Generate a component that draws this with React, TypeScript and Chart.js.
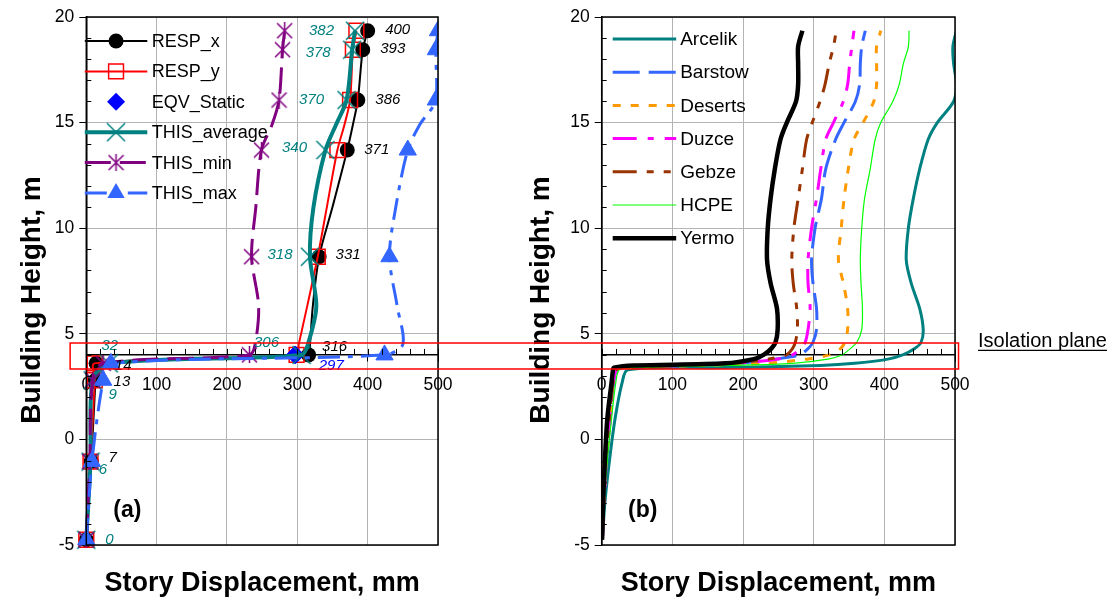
import React, { useEffect, useRef } from 'react';
import { Chart, registerables } from 'chart.js';

Chart.register(...registerables);

const FONT = '"Liberation Sans", Arial, Helvetica, sans-serif';

// ---------------- Panel (a): response comparison ----------------
const heightsA = [-4.75, -1.05, 2.8, 3.6, 4.0, 4.5, 6.3, 8.65, 11.0, 13.7, 14.9, 16.07, 18.45, 19.35];
const markerFlagsA = [1, 1, 1, 1, 1, 0, 0, 1, 0, 1, 0, 1, 1, 1];
const respX = [0, 7, 13, 14, 316, 318, 322, 331, 350, 371, 379, 386, 393, 400];
const respY = [0, 6, 12, 12, 299, 302, 314, 329, 342, 357, 367, 375, 379, 384];
const thisAverage = [0, 6, 9, 32, 306, 315, 327, 318, 323, 340, 355, 370, 378, 382];
const thisMin = [0, 5, 9, 24, 232, 240, 245, 235, 241, 249, 264, 274, 279, 282];
const thisMax = [0, 8, 24, 35, 424, 450, 442, 431, 440, 457, 474, 497, 497, 500];
const eqvHeights = [4.0];
const eqvStatic = [297];
const respXLabelIdx = [1, 2, 3, 4, 7, 9, 11, 12, 13];
const avgLabelIdx = [0, 1, 2, 3, 4, 7, 9, 11, 12, 13];
const eqvLabelIdx = [0];

// ---------------- Panel (b): individual records ----------------
const heightsB = [-4.75, -3, -1, 1, 2.7, 3.3, 3.4, 3.5, 3.6, 3.8, 4.0, 4.3, 4.6, 5.2, 6.2, 7.4, 8.5, 10, 11.4, 12.8, 14.2, 15.0, 16.0, 16.8, 17.8, 18.6, 19.35];
const arcelik = [1, 4.5, 11, 19, 29, 37, 170, 310, 358, 405, 426, 443, 452, 455, 450, 438, 431, 434, 441, 450, 462, 475, 498, 502, 498, 497, 502];
const barstow = [1, 3, 7, 12, 17, 22, 40, 120, 190, 245, 280, 292, 299, 304, 304, 299, 297, 302, 311, 317, 331, 343, 359, 365, 366, 368, 373];
const deserts = [1, 3, 7, 12, 16, 21, 38, 130, 230, 290, 322, 338, 344, 348, 348, 342, 335, 339, 343, 349, 357, 370, 385, 389, 389, 389, 395];
const duzce = [1, 3, 7, 12, 17, 21, 38, 120, 190, 248, 270, 281, 288, 292, 295, 292, 292, 297, 304, 310, 317, 328, 342, 348, 351, 354, 357];
const gebze = [1, 3, 6, 11, 16, 21, 38, 115, 180, 235, 261, 270, 274, 277, 276, 271, 269, 272, 278, 284, 290, 298, 309, 316, 322, 328, 332];
const hcpe = [1, 3.5, 8, 14, 20, 25, 45, 180, 270, 320, 340, 352, 361, 368, 369, 367, 366, 368, 372, 380, 387, 395, 412, 421, 427, 434, 435];
const yermo = [0.5, 2, 4.5, 8, 14, 16, 17, 45, 175, 215, 229, 240, 246, 249, 248, 239, 234, 235, 239, 245, 253, 262, 275, 278, 278, 278, 284];

// ---------------- Axes ----------------
const xMin = 0, xMax = 500, xStep = 100, xMinorStep = 20;
const yMin = -5, yMax = 20, yStep = 5, yMinorStep = 1;
const isolationLevel = 4;
const isolationBand = [3.33, 4.57];
const isolationExtentA = -23;
const isolationExtentB = 505;

const TEAL = '#008080';
const PURPLE = '#800080';
const BLUE = '#3366ff';
const GRID = '#b4b4b4';

function pts(hs: number[], xs: number[]) {
  return hs.map((h, i) => ({ x: xs[i], y: h }));
}

function makeAsterisk(size: number, color: string, lw: number, vertical: boolean) {
  const c = document.createElement('canvas');
  c.width = size;
  c.height = size;
  const g = c.getContext('2d')!;
  g.strokeStyle = color;
  g.lineWidth = lw;
  const m = 1;
  g.beginPath();
  g.moveTo(m, m);
  g.lineTo(size - m, size - m);
  g.moveTo(size - m, m);
  g.lineTo(m, size - m);
  if (vertical) {
    g.moveTo(size / 2, 0);
    g.lineTo(size / 2, size);
  }
  g.stroke();
  return c;
}

function drawMarker(ctx: CanvasRenderingContext2D, m: any, x: number, y: number) {
  if (!m) return;
  ctx.save();
  ctx.setLineDash([]);
  if (m.style instanceof HTMLCanvasElement) {
    ctx.drawImage(m.style, x - m.style.width / 2, y - m.style.height / 2);
    ctx.restore();
    return;
  }
  const r = m.r;
  ctx.beginPath();
  if (m.style === 'circle') {
    ctx.arc(x, y, r, 0, Math.PI * 2);
  } else if (m.style === 'rect') {
    const s = r * Math.SQRT1_2;
    ctx.rect(x - s, y - s, 2 * s, 2 * s);
  } else if (m.style === 'rectRot') {
    ctx.moveTo(x, y - r);
    ctx.lineTo(x + r, y);
    ctx.lineTo(x, y + r);
    ctx.lineTo(x - r, y);
    ctx.closePath();
  } else if (m.style === 'triangle') {
    ctx.moveTo(x, y - r);
    ctx.lineTo(x + r * 0.866, y + r / 2);
    ctx.lineTo(x - r * 0.866, y + r / 2);
    ctx.closePath();
  }
  if (m.fill) {
    ctx.fillStyle = m.fill;
    ctx.fill();
  }
  if (m.stroke) {
    ctx.strokeStyle = m.stroke;
    ctx.lineWidth = m.lw || 1;
    ctx.stroke();
  }
  ctx.restore();
}

function makeScales(yAxisWidth: number) {
  const tickFont = { family: FONT, size: 17.5 };
  return {
    x: {
      type: 'linear',
      min: xMin,
      max: xMax,
      position: { y: isolationLevel },
      ticks: { stepSize: xStep, font: tickFont, color: '#000', padding: 14, maxRotation: 0, autoSkip: false },
      grid: { color: GRID, lineWidth: 1, tickLength: 6, tickColor: '#000', tickWidth: 1 },
      border: { color: '#000', width: 1.5 },
    },
    y: {
      type: 'linear',
      min: yMin,
      max: yMax,
      position: 'left',
      afterFit: (s: any) => {
        s.width = yAxisWidth;
      },
      ticks: { stepSize: yStep, font: tickFont, color: '#000', padding: 5 },
      grid: { color: GRID, lineWidth: 1, tickLength: 7, tickColor: '#000', tickWidth: 1 },
      border: { color: '#000', width: 1.5 },
    },
  };
}

function drawFrame(chart: any) {
  const { ctx, chartArea: a, scales } = chart;
  const x = scales.x, y = scales.y;
  ctx.save();
  ctx.setLineDash([]);
  ctx.strokeStyle = '#000';
  ctx.lineWidth = 1.5;
  ctx.strokeRect(a.left, a.top, a.right - a.left, a.bottom - a.top);
  ctx.lineWidth = 1;
  ctx.beginPath();
  for (let v = yMin; v <= yMax; v += yMinorStep) {
    if (v % yStep === 0) continue;
    const py = Math.round(y.getPixelForValue(v)) + 0.5;
    ctx.moveTo(a.left, py);
    ctx.lineTo(a.left + 5, py);
  }
  const ay = y.getPixelForValue(isolationLevel);
  for (let v = xMin; v <= xMax; v += xMinorStep) {
    const px = Math.round(x.getPixelForValue(v)) + 0.5;
    ctx.moveTo(px, ay);
    ctx.lineTo(px, ay - 6);
  }
  ctx.stroke();
  ctx.restore();
}

function drawTitles(chart: any, yTitleOffset: number, panel: string) {
  const { ctx, chartArea: a } = chart;
  ctx.save();
  ctx.fillStyle = '#000';
  ctx.textAlign = 'center';
  ctx.textBaseline = 'middle';
  ctx.font = `bold 27px ${FONT}`;
  ctx.fillText('Story Displacement, mm', (a.left + a.right) / 2, a.bottom + 39);
  ctx.font = `bold 23px ${FONT}`;
  ctx.fillText(panel, a.left + 41, a.bottom - 34);
  ctx.translate(a.left - yTitleOffset, a.top + 283);
  ctx.rotate(-Math.PI / 2);
  ctx.font = `bold 28px ${FONT}`;
  ctx.fillText('Building Height, m', 0, 0);
  ctx.restore();
}

function drawLegend(chart: any, x0: number, x1: number, tx: number, y0: number, step: number, fontSize: number) {
  const { ctx } = chart;
  chart.data.datasets.forEach((ds: any, i: number) => {
    const yy = y0 + i * step;
    ctx.save();
    if (ds.showLine !== false) {
      ctx.strokeStyle = ds.borderColor;
      ctx.lineWidth = ds.borderWidth;
      ctx.setLineDash(ds.borderDash || []);
      ctx.beginPath();
      ctx.moveTo(x0, yy);
      ctx.lineTo(x1, yy);
      ctx.stroke();
    }
    ctx.restore();
    if (ds.legendMarker) drawMarker(ctx, ds.legendMarker, (x0 + x1) / 2, yy);
    ctx.save();
    ctx.fillStyle = '#000';
    ctx.font = `${fontSize}px ${FONT}`;
    ctx.textAlign = 'left';
    ctx.textBaseline = 'middle';
    ctx.fillText(ds.label, tx, yy + 1);
    ctx.restore();
  });
}

function drawIsolationBox(chart: any, side: 'left' | 'right') {
  const { ctx, scales } = chart;
  const y = scales.y, x = scales.x;
  const yT = y.getPixelForValue(isolationBand[1]);
  const yB = y.getPixelForValue(isolationBand[0]);
  ctx.save();
  ctx.setLineDash([]);
  ctx.strokeStyle = '#ff0000';
  ctx.lineWidth = 1.5;
  ctx.beginPath();
  if (side === 'left') {
    const xl = x.getPixelForValue(isolationExtentA);
    ctx.moveTo(chart.width, yT);
    ctx.lineTo(xl, yT);
    ctx.lineTo(xl, yB);
    ctx.lineTo(chart.width, yB);
  } else {
    const xr = x.getPixelForValue(isolationExtentB);
    ctx.moveTo(0, yT);
    ctx.lineTo(xr, yT);
    ctx.lineTo(xr, yB);
    ctx.lineTo(0, yB);
  }
  ctx.stroke();
  ctx.restore();
}

const respXOffsets = [[21.5, -4], [26.5, 1.5], [27, 2], [26, -8], [29, -1.5], [29.5, 0], [30, 0], [30, -1], [30, -1]];
const avgOffsets = [[23, 0], [12.5, 8], [20, 15], [1, -17.5], [-35, -12], [-30, -1.5], [-31, -2], [-35, 0], [-34, 3], [-33.5, 0]];
const eqvOffsets = [[36, 11]];

export default function App() {
  const leftRef = useRef<HTMLCanvasElement>(null);
  const rightRef = useRef<HTMLCanvasElement>(null);

  useEffect(() => {
    const tealX = makeAsterisk(20, TEAL, 1.5, false);
    const purpleStar = makeAsterisk(17, PURPLE, 1.5, true);
    const radii = (r: number) => markerFlagsA.map((f) => (f ? r : 0));
    const clipA = { left: 14, top: 4, right: 0, bottom: 10 };

    const leftDatasets: any[] = [
      {
        label: 'RESP_x', data: pts(heightsA, respX), borderColor: '#000000', borderWidth: 2,
        pointStyle: 'circle', pointRadius: radii(7.5), pointBackgroundColor: '#000', pointBorderColor: '#000', pointBorderWidth: 0,
        tension: 0.3, order: 5, clip: clipA,
        legendMarker: { style: 'circle', r: 7.5, fill: '#000' },
        valueLabels: { idx: respXLabelIdx, offsets: respXOffsets, color: '#000', values: respX },
      },
      {
        label: 'RESP_y', data: pts(heightsA, respY), borderColor: '#ff0000', borderWidth: 2,
        pointStyle: 'rect', pointRadius: radii(10.5), pointBackgroundColor: 'rgba(0,0,0,0)', pointBorderColor: '#ff0000', pointBorderWidth: 1.5,
        tension: 0.3, order: 4, clip: clipA,
        legendMarker: { style: 'rect', r: 10.5, stroke: '#ff0000', lw: 1.5 },
      },
      {
        label: 'EQV_Static', data: pts(eqvHeights, eqvStatic), showLine: false, borderColor: '#0000ff', borderWidth: 0,
        pointStyle: 'rectRot', pointRadius: 9, pointBackgroundColor: '#0000ff', pointBorderColor: '#0000ff', pointBorderWidth: 1,
        order: 3, clip: clipA,
        legendMarker: { style: 'rectRot', r: 9, fill: '#0000ff' },
        valueLabels: { idx: eqvLabelIdx, offsets: eqvOffsets, color: '#0000ff', values: eqvStatic },
      },
      {
        label: 'THIS_average', data: pts(heightsA, thisAverage), borderColor: TEAL, borderWidth: 4,
        pointStyle: tealX, pointRadius: radii(10), tension: 0.3, order: 2, clip: clipA,
        legendMarker: { style: tealX },
        valueLabels: { idx: avgLabelIdx, offsets: avgOffsets, color: TEAL, values: thisAverage },
      },
      {
        label: 'THIS_min', data: pts(heightsA, thisMin), borderColor: PURPLE, borderWidth: 3, borderDash: [26, 9],
        pointStyle: purpleStar, pointRadius: radii(9), tension: 0.3, order: 1, clip: clipA,
        legendMarker: { style: purpleStar },
      },
      {
        label: 'THIS_max', data: pts(heightsA, thisMax), borderColor: BLUE, borderWidth: 3, borderDash: [22, 8, 5, 8],
        pointStyle: 'triangle', pointRadius: radii(10), pointBackgroundColor: BLUE, pointBorderColor: BLUE, pointBorderWidth: 1,
        tension: 0.3, order: 0, clip: clipA,
        legendMarker: { style: 'triangle', r: 10, fill: BLUE },
      },
    ];

    const leftPlugin = {
      id: 'leftDecor',
      afterDatasetsDraw(chart: any) {
        const { ctx } = chart;
        chart.data.datasets.forEach((ds: any, di: number) => {
          if (!ds.valueLabels) return;
          const meta = chart.getDatasetMeta(di);
          const vl = ds.valueLabels;
          vl.idx.forEach((pi: number, k: number) => {
            const el = meta.data[pi];
            if (!el) return;
            ctx.save();
            ctx.fillStyle = vl.color;
            ctx.font = `italic 15px ${FONT}`;
            ctx.textAlign = 'center';
            ctx.textBaseline = 'middle';
            ctx.fillText(String(vl.values[pi]), el.x + vl.offsets[k][0], el.y + vl.offsets[k][1]);
            ctx.restore();
          });
        });
      },
      afterDraw(chart: any) {
        const a = chart.chartArea;
        drawFrame(chart);
        drawLegend(chart, a.left - 1.5, a.left + 61, a.left + 65.5, a.top + 24, 30.4, 18);
        drawTitles(chart, 54, '(a)');
        drawIsolationBox(chart, 'left');
      },
    };

    const rightDatasets: any[] = [
      { label: 'Arcelik', data: pts(heightsB, arcelik), borderColor: TEAL, borderWidth: 3, order: 6 },
      { label: 'Barstow', data: pts(heightsB, barstow), borderColor: BLUE, borderWidth: 3, borderDash: [27, 9], order: 5 },
      { label: 'Deserts', data: pts(heightsB, deserts), borderColor: '#ff9900', borderWidth: 3, borderDash: [8, 10], order: 4 },
      { label: 'Duzce', data: pts(heightsB, duzce), borderColor: '#ff00ff', borderWidth: 3, borderDash: [24, 11, 6, 11], order: 3 },
      { label: 'Gebze', data: pts(heightsB, gebze), borderColor: '#993300', borderWidth: 3, borderDash: [24, 10, 7, 10, 7, 10], order: 2 },
      { label: 'HCPE', data: pts(heightsB, hcpe), borderColor: '#00ff00', borderWidth: 1.2, order: 1 },
      { label: 'Yermo', data: pts(heightsB, yermo), borderColor: '#000000', borderWidth: 4.5, order: 0 },
    ].map((d) => ({ ...d, pointRadius: 0, tension: 0.3 }));

    const rightPlugin = {
      id: 'rightDecor',
      afterDraw(chart: any) {
        const { ctx, chartArea: a, scales } = chart;
        drawFrame(chart);
        drawLegend(chart, a.left + 11, a.left + 74.5, a.left + 78.5, a.top + 22, 33.2, 19);
        drawTitles(chart, 60.5, '(b)');
        drawIsolationBox(chart, 'right');
        const ay = scales.y.getPixelForValue(isolationLevel);
        ctx.save();
        ctx.fillStyle = '#000';
        ctx.font = `20px ${FONT}`;
        ctx.textAlign = 'left';
        ctx.textBaseline = 'alphabetic';
        const text = 'Isolation plane';
        const tx = a.right + 23;
        ctx.fillText(text, tx, ay - 8);
        const w = ctx.measureText(text).width;
        ctx.strokeStyle = '#000';
        ctx.lineWidth = 1.3;
        ctx.beginPath();
        ctx.moveTo(tx, ay - 4.5);
        ctx.lineTo(tx + w, ay - 4.5);
        ctx.stroke();
        ctx.restore();
      },
    };

    const common = {
      responsive: false,
      animation: false,
      devicePixelRatio: 1,
      events: [],
      plugins: { legend: { display: false }, tooltip: { enabled: false }, title: { display: false } },
    };

    const left = new Chart(leftRef.current!, {
      type: 'line',
      data: { datasets: leftDatasets },
      options: {
        ...common,
        layout: { padding: { top: 17, bottom: 58, left: 0, right: 62 } },
        scales: makeScales(86.3) as any,
      } as any,
      plugins: [leftPlugin],
    });

    const right = new Chart(rightRef.current!, {
      type: 'line',
      data: { datasets: rightDatasets },
      options: {
        ...common,
        layout: { padding: { top: 17, bottom: 58, left: 0, right: 159 } },
        scales: makeScales(101.7) as any,
      } as any,
      plugins: [rightPlugin],
    });

    return () => {
      left.destroy();
      right.destroy();
    };
  }, []);

  return (
    <div style={{ position: 'absolute', left: 0, top: 0, width: 1114, height: 603, background: '#ffffff', overflow: 'hidden' }}>
      <canvas ref={leftRef} width={500} height={603} style={{ position: 'absolute', left: 0, top: 0 }} />
      <canvas ref={rightRef} width={614} height={603} style={{ position: 'absolute', left: 500, top: 0 }} />
    </div>
  );
}
